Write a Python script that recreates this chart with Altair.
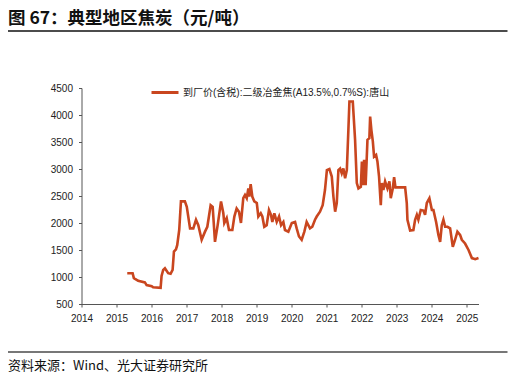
import altair as alt
import pandas as pd

title_text = "图 67：典型地区焦炭（元/吨）"
source_text = "资料来源：Wind、光大证券研究所"
series_name = "到厂价(含税):二级冶金焦(A13.5%,0.7%S):唐山"

dates = [
    "2015-04-23", "2015-06-18", "2015-07-01", "2015-08-15", "2015-10-24", "2015-11-11",
    "2016-01-03", "2016-01-18", "2016-04-05", "2016-04-15", "2016-05-02", "2016-05-20",
    "2016-06-23", "2016-07-18", "2016-08-08", "2016-08-22", "2016-09-12", "2016-09-25",
    "2016-10-16", "2016-11-03", "2016-12-14", "2017-01-03", "2017-02-06", "2017-03-12",
    "2017-04-09", "2017-05-03", "2017-06-07", "2017-07-12", "2017-08-05", "2017-09-09",
    "2017-09-30", "2017-10-24", "2017-11-21", "2017-12-26", "2018-01-19", "2018-01-29",
    "2018-02-23", "2018-03-19", "2018-04-23", "2018-05-14", "2018-06-07", "2018-07-01",
    "2018-07-22", "2018-08-15", "2018-09-02", "2018-09-20", "2018-10-07", "2018-10-17",
    "2018-10-31", "2018-11-17", "2018-12-08", "2019-01-03", "2019-01-19", "2019-02-13",
    "2019-03-02", "2019-03-22", "2019-04-16", "2019-05-10", "2019-05-31", "2019-06-14",
    "2019-07-05", "2019-07-30", "2019-08-23", "2019-09-13", "2019-10-07", "2019-10-24",
    "2019-11-28", "2020-01-03", "2020-02-06", "2020-02-23", "2020-03-18", "2020-04-15",
    "2020-05-13", "2020-06-06", "2020-07-11", "2020-08-04", "2020-09-01", "2020-09-19",
    "2020-10-23", "2020-11-20", "2020-12-14", "2021-01-03", "2021-01-29", "2021-02-23",
    "2021-03-12", "2021-03-30", "2021-04-16", "2021-05-03", "2021-05-21", "2021-06-07",
    "2021-06-24", "2021-07-12", "2021-07-30", "2021-08-15", "2021-08-26", "2021-09-30",
    "2021-10-24", "2021-11-11", "2021-11-28", "2021-12-23", "2022-01-03", "2022-01-16",
    "2022-01-26", "2022-02-11", "2022-02-21", "2022-03-02", "2022-03-22", "2022-03-30",
    "2022-04-12", "2022-04-27", "2022-05-10", "2022-05-31", "2022-06-14", "2022-07-01",
    "2022-07-19", "2022-07-30", "2022-08-15", "2022-09-02", "2022-09-26", "2022-10-17",
    "2022-10-31", "2022-11-21", "2022-12-05", "2022-12-19", "2023-03-30", "2023-04-16",
    "2023-04-23", "2023-05-21", "2023-06-24", "2023-07-12", "2023-07-30", "2023-08-15",
    "2023-09-09", "2023-10-07", "2023-10-24", "2023-11-11", "2023-12-08", "2024-01-03",
    "2024-01-19", "2024-02-16", "2024-03-11", "2024-03-29", "2024-04-15", "2024-05-02",
    "2024-05-20", "2024-06-13", "2024-07-11", "2024-08-08", "2024-09-01", "2024-09-25",
    "2024-10-23", "2024-11-10", "2024-12-14", "2025-01-19", "2025-02-23", "2025-03-30",
    "2025-05-03",
]

prices = [
    1070, 1070, 980, 930, 900, 850,
    830, 810, 800, 1020, 1130, 1160,
    1070, 1060, 1130, 1470, 1510, 1590,
    1870, 2400, 2400, 2300, 1900, 1900,
    2060, 1960, 1690, 1840, 1930, 2330,
    2300, 1650, 1960, 2400, 2180, 2000,
    2090, 1870, 1870, 2120, 2270, 2210,
    2000, 2460, 2520, 2460, 2640, 2490,
    2720, 2490, 2400, 2370, 2120, 2180,
    2120, 1930, 1960, 2240, 2150, 2020,
    2180, 2020, 2120, 1960, 2020, 1870,
    1840, 2000, 2020, 1900, 1750, 1690,
    1840, 2020, 1900, 1930, 2060, 2120,
    2210, 2330, 2610, 2980, 3000, 2860,
    2490, 2210, 2370, 2980, 3010, 2920,
    3010, 2830, 2980, 3720, 4250, 4250,
    3540, 2740, 2640, 2670, 3140, 2700,
    3170, 2700, 3130, 3540, 3570, 3970,
    3720, 3510, 3230, 3260, 3140, 2860,
    2330, 2740, 2610, 2770, 2640, 2770,
    2460, 2640, 2850, 2660, 2660, 2370,
    2060, 1860, 1870, 2060, 2150, 2060,
    2240, 2230, 2150, 2370, 2460, 2240,
    2240, 2020, 1780, 1650, 1960, 2060,
    1930, 1930, 1900, 1560, 1690, 1840,
    1780, 1690, 1620, 1500, 1350, 1330,
    1350,
]

line_color = "#C9461F"
font_latin = "Liberation Sans, Noto Sans CJK SC"
font_cjk = "Noto Sans CJK SC"

df = pd.DataFrame({"date": dates, "price": prices, "series": series_name})

line = alt.Chart(df).mark_line(strokeWidth=2.6, strokeJoin="miter").encode(
    x=alt.X(
        "date:T",
        scale=alt.Scale(domain=["2014-01-01", "2025-05-03"]),
        axis=alt.Axis(
            title=None, format="%Y", tickCount={"interval": "year", "step": 1},
            grid=False, labelFont=font_latin, labelFontSize=10, labelColor="#222",
            domainColor="#555", tickColor="#555", tickSize=3, labelPadding=6,
            labelFlush=False, labelOverlap=False,
        ),
    ),
    y=alt.Y(
        "price:Q",
        scale=alt.Scale(domain=[500, 4500]),
        axis=alt.Axis(
            title=None, values=list(range(500, 5000, 500)), format="d", grid=False,
            labelFont=font_latin, labelFontSize=10, labelColor="#222",
            domainColor="#555", tickColor="#555", tickSize=3, labelPadding=6,
        ),
    ),
    color=alt.Color(
        "series:N",
        scale=alt.Scale(domain=[series_name], range=[line_color]),
        legend=alt.Legend(
            title=None, orient="none", legendX=68.5, legendY=-10.5,
            symbolType="stroke", symbolSize=729, symbolStrokeWidth=3,
            labelFont=font_latin, labelFontSize=10, labelColor="#222",
            labelOffset=3, labelLimit=400,
        ),
    ),
)

title_df = pd.DataFrame({"t": [title_text]})
title = alt.Chart(title_df).mark_text(
    align="left", baseline="middle", font=font_cjk, fontSize=17.5,
    fontWeight="bold", color="#111",
).encode(x=alt.value(-73.5), y=alt.value(-69.5), text="t:N")

source_df = pd.DataFrame({"t": [source_text]})
source = alt.Chart(source_df).mark_text(
    align="left", baseline="middle", font=font_cjk, fontSize=13, color="#111",
).encode(x=alt.value(-73.5), y=alt.value(277.5), text="t:N")

one = pd.DataFrame({"a": [0]})
top_rule = alt.Chart(one).mark_rule(color="#111", strokeWidth=1.5).encode(
    x=alt.value(-73.5), x2=alt.value(426), y=alt.value(-57)
)
bottom_rule = alt.Chart(one).mark_rule(color="#777", strokeWidth=1.8).encode(
    x=alt.value(-73.5), x2=alt.value(426), y=alt.value(264)
)

chart = alt.layer(line, title, source, top_rule, bottom_rule).properties(
    width=397, height=216,
    padding={"left": 73.5, "top": 80, "right": 29, "bottom": 68},
    autosize=alt.AutoSizeParams(type="none"),
    background="white",
).configure_view(stroke=None)

chart.save("out.html", embed_options={"renderer": "svg", "actions": False})
